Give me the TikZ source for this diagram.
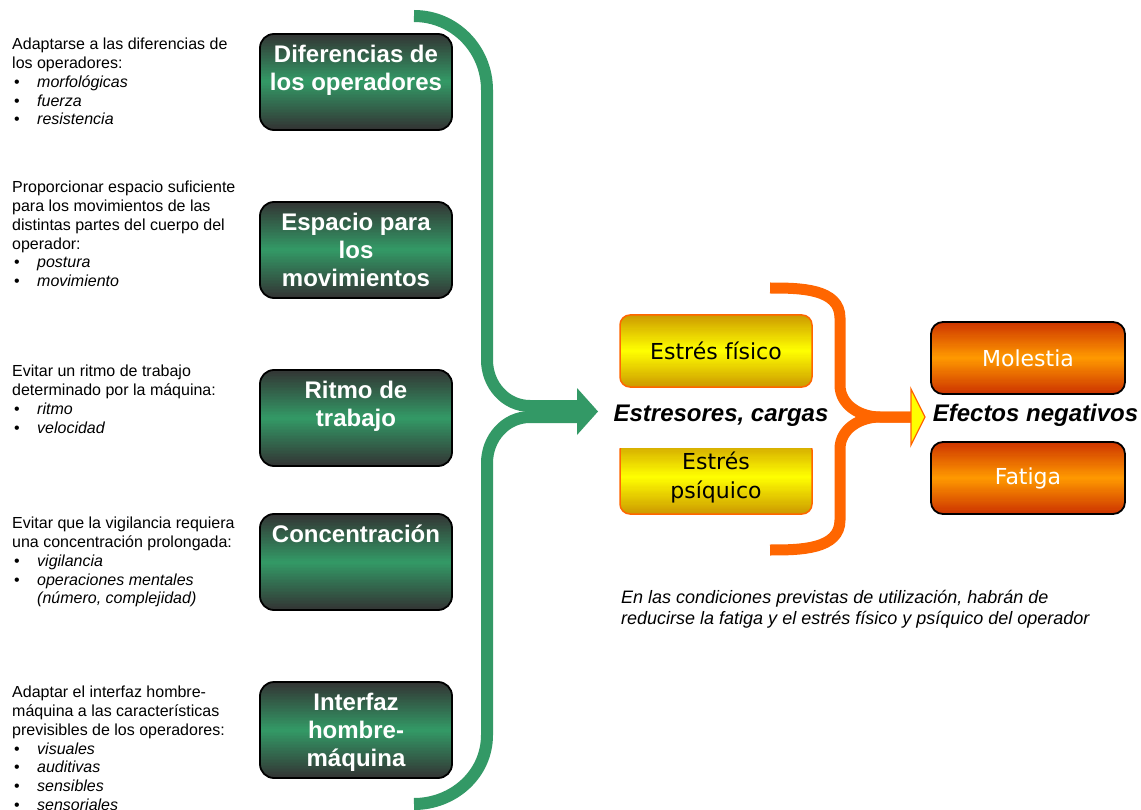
\documentclass[tikz,border=0pt]{standalone}
\usepackage{fontspec}
\setmainfont{Liberation Sans}
\newfontfamily\verd{DejaVu Sans}
\definecolor{ggreen}{HTML}{339966}
\definecolor{gdark}{HTML}{333333}
\definecolor{ydark}{HTML}{CC9900}
\definecolor{yel}{HTML}{FFFF00}
\definecolor{orline}{HTML}{FF6600}
\definecolor{odark}{HTML}{CC3300}
\definecolor{omid}{HTML}{FF9900}
\newcommand{\lsitem}[1]{\hspace*{2pt}\makebox[23pt][l]{\textbullet}\textit{#1}}
% vertical three-colour gradient drawn as thin strips inside a rounded rectangle
\newcommand{\vgrad}[8]{%
\begin{scope}
\clip[rounded corners=#5] (#1,#2) rectangle (#3,#4);
\foreach \k in {0,...,63}{%
 \pgfmathsetmacro{\gya}{#2+(#4-#2)*\k/64}%
 \pgfmathsetmacro{\gyb}{#2+(#4-#2)*(\k+1.4)/64}%
 \ifnum\k<32
  \pgfmathtruncatemacro{\gpp}{100-100*(\k+0.5)/32}%
  \fill[color=#6!\gpp!#7] (#1,\gya) rectangle (#3,\gyb);
 \else
  \pgfmathtruncatemacro{\gpp}{100*(\k-31.5)/32}%
  \fill[color=#8!\gpp!#7] (#1,\gya) rectangle (#3,\gyb);
 \fi
}
\end{scope}}
\begin{document}
\begin{tikzpicture}[x=1pt,y=1pt,
  gbox/.style={draw=black, line width=1.8pt, rounded corners=14pt, minimum width=192pt, minimum height=96pt, inner sep=0pt},
  gtext/.style={anchor=north, inner sep=0pt, text=white, align=center, font=\bfseries\fontsize{24}{28}\selectfont},
  ybox/.style={draw=orline, line width=1.5pt, rounded corners=10pt, minimum width=192pt, inner sep=0pt, align=center, font=\verd\fontsize{22}{29}\selectfont},
  obox/.style={draw=black, line width=1.8pt, rounded corners=12pt, minimum width=194pt, minimum height=72pt, inner sep=0pt, text=white, font=\verd\fontsize{22}{29}\selectfont},
  ltext/.style={anchor=north west, inner sep=0pt, align=left, font=\fontsize{16}{18.8}\selectfont},
  gline/.style={draw=ggreen, line width=12pt},
  oline/.style={draw=orline, line width=11pt},
  biglabel/.style={anchor=base, inner sep=0pt, font=\bfseries\itshape\fontsize{24}{28}\selectfont},
  note/.style={anchor=base west, inner sep=0pt, font=\itshape\fontsize{18}{21}\selectfont}
]
\useasboundingbox[fill=white] (0,0) rectangle (1141,-810);

% left texts
\node[ltext] (t1) at (12,-38) {Adaptarse a las diferencias de\\los operadores:\\\lsitem{morfológicas}\\\lsitem{fuerza}\\\lsitem{resistencia}};
\node[ltext] (t2) at (12,-181) {Proporcionar espacio suficiente\\para los movimientos de las\\distintas partes del cuerpo del\\operador:\\\lsitem{postura}\\\lsitem{movimiento}};
\node[ltext] (t3) at (12,-365) {Evitar un ritmo de trabajo\\determinado por la máquina:\\\lsitem{ritmo}\\\lsitem{velocidad}};
\node[ltext] (t4) at (12,-517) {Evitar que la vigilancia requiera\\una concentración prolongada:\\\lsitem{vigilancia}\\\lsitem{operaciones mentales}\\\hspace*{25pt}\textit{(número, complejidad)}};
\node[ltext] (t5) at (12,-686) {Adaptar el interfaz hombre-\\máquina a las características\\previsibles de los operadores:\\\lsitem{visuales}\\\lsitem{auditivas}\\\lsitem{sensibles}\\\lsitem{sensoriales}};

% green boxes
\vgrad{260}{-34}{452}{-130}{14pt}{gdark}{ggreen}{gdark}
\vgrad{260}{-202}{452}{-298}{14pt}{gdark}{ggreen}{gdark}
\vgrad{260}{-370}{452}{-466}{14pt}{gdark}{ggreen}{gdark}
\vgrad{260}{-514}{452}{-610}{14pt}{gdark}{ggreen}{gdark}
\vgrad{260}{-682}{452}{-778}{14pt}{gdark}{ggreen}{gdark}
\node[gbox] (g1) at (356,-82) {};
\node[gbox] (g2) at (356,-250) {};
\node[gbox] (g3) at (356,-418) {};
\node[gbox] (g4) at (356,-562) {};
\node[gbox] (g5) at (356,-730) {};
\node[gtext] (g1t) at ([yshift=-12pt]g1.north) {Diferencias de\\los operadores};
\node[gtext] (g2t) at ([yshift=-12pt]g2.north) {Espacio para\\los\\movimientos};
\node[gtext] (g3t) at ([yshift=-12pt]g3.north) {Ritmo de\\trabajo};
\node[gtext] (g4t) at ([yshift=-12pt]g4.north) {Concentración};
\node[gtext] (g5t) at ([yshift=-12pt]g5.north) {Interfaz\\hombre-\\máquina};

% green brace
\coordinate (gtop) at (414,-16);
\coordinate (gv1) at (487,-90);
\coordinate (gv2) at (487,-360);
\coordinate (gs1) at (530,-406);
\coordinate (ge1) at (579,-406);
\coordinate (ge2) at (579,-417);
\coordinate (gs2) at (530,-417);
\coordinate (gv3) at (487,-463);
\coordinate (gv4) at (487,-735);
\coordinate (gbot) at (414,-804);
\draw[gline] (gtop) to[out=0,in=90] (gv1) -- (gv2) to[out=-90,in=180] (gs1) -- (ge1);
\draw[gline] (ge2) -- (gs2) to[out=180,in=90] (gv3) -- (gv4) to[out=-90,in=0] (gbot);
\coordinate (ga1) at (577,-388);
\coordinate (gtip) at (598,-411.5);
\coordinate (ga2) at (577,-435);
\fill[ggreen] (ga1) -- (gtip) -- (ga2) -- cycle;

% yellow boxes
\vgrad{620}{-315}{812}{-387}{10pt}{ydark}{yel}{ydark}
\node[ybox, minimum height=72pt] (fis) at (716,-351) {Estrés físico};
\begin{scope}
\clip (600,-448) rectangle (830,-530);
\vgrad{620}{-440}{812}{-514}{10pt}{ydark}{yel}{ydark}
\node[ybox, minimum height=74pt] (psi) at (716,-477) {Estrés\\psíquico};
\end{scope}

% orange brace
\coordinate (otop) at (770,-288);
\coordinate (ov1) at (840,-318);
\coordinate (ov2) at (840,-385);
\coordinate (os1) at (880,-417);
\coordinate (oe) at (912,-417);
\coordinate (ov3) at (840,-449);
\coordinate (ov4) at (840,-520);
\coordinate (obot) at (770,-550);
\draw[oline] (otop) to[out=0,in=90] (ov1) -- (ov2) to[out=-90,in=180] (os1) -- (oe);
\draw[oline] (oe) -- (os1) to[out=180,in=90] (ov3) -- (ov4) to[out=-90,in=0] (obot);
\coordinate (oa1) at (911,-389);
\coordinate (otip) at (925,-417);
\coordinate (oa2) at (911,-445);
\filldraw[fill=yel, draw=orline, line width=1.3pt, line join=miter] (oa1) -- (otip) -- (oa2) -- cycle;

% orange boxes
\vgrad{931}{-322}{1125}{-394}{12pt}{odark}{omid}{odark}
\vgrad{931}{-442}{1125}{-514}{12pt}{odark}{omid}{odark}
\node[obox] (mol) at (1028,-358) {Molestia};
\node[obox] (fat) at (1028,-478) {Fatiga};

% labels
\node[biglabel] (est) at (721,-421) {Estresores, cargas};
\node[biglabel] (efe) at (1035.5,-421) {Efectos negativos};

% note
\node[note] (n1) at (621,-603) {En las condiciones previstas de utilización, habrán de};
\node[note] (n2) at (621,-624) {reducirse la fatiga y el estrés físico y psíquico del operador};
\end{tikzpicture}
\end{document}
